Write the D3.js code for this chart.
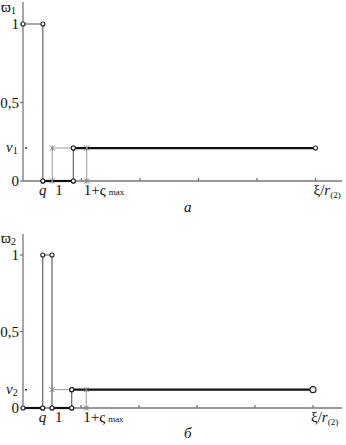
<!DOCTYPE html>
<meta charset="utf-8">
<style>
html, body { margin: 0; padding: 0; background: #fff; }
svg { display: block; }
text { font-family: "Liberation Serif", "Times New Roman", serif; font-size: 15px; fill: #111; }
.axis line, .axis path { stroke: #777; stroke-width: 1.3px; fill: none; }
.thin { stroke: #555; stroke-width: 1.1px; fill: none; }
.thick { stroke: #111; stroke-width: 2.2px; fill: none; }
.grey { stroke: #999; stroke-width: 1px; fill: none; }
.dot { fill: #fff; stroke: #222; stroke-width: 1.1px; }
.star { stroke: #888; stroke-width: 1px; }
</style>
<svg width="346" height="445"></svg>
<script src="https://d3js.org/d3.v7.min.js"></script>
<script>

// positions on the abscissa (axis ticks fall on the integers)
var xTicks = [1, 2, 3, 4, 5];
var qPos = 0.34, onePos = 0.5, cMaxPos = 1.09, endPos = 5;
var yTicks = [0, 0.5, 1];

// panel a
var v1 = 0.21;
var stepA = 0.86;
var greyA = [[0, 1], [qPos, 1], [qPos, 0]];
var thickA1 = [[qPos, 0], [stepA, 0]];
var riseA = [[stepA, 0], [stepA, v1]];
var thickA2 = [[stepA, v1], [endPos, v1]];
var starA = [[onePos, 0], [onePos, v1], [cMaxPos, v1], [cMaxPos, 0]];

// panel б
var v2 = 0.12;
var stepB = 0.84;
var thickB0 = [[0, 0], [qPos, 0]];
var greyB = [[qPos, 0], [qPos, 1], [onePos, 1], [onePos, 0]];
var thickB1 = [[onePos, 0], [stepB, 0]];
var riseB = [[stepB, 0], [stepB, v2]];
var thickB2 = [[stepB, v2], [endPos, v2]];
var starB = [[onePos, v2], [cMaxPos, v2], [cMaxPos, 0]];

var svg = d3.select('svg');

function panel(opt) {
  var x = d3.scaleLinear().domain([0, 5]).range([23, opt.xEnd]);
  var y = d3.scaleLinear().domain([0, 1]).range([opt.y0, opt.y1]);
  var g = svg.append('g');
  var line = d3.line().x(function (d) { return x(d[0]); }).y(function (d) { return y(d[1]); });

  // axes
  var ax = g.append('g').attr('class', 'axis');
  ax.append('line').attr('x1', x(0)).attr('x2', x(0)).attr('y1', opt.top).attr('y2', y(0));
  ax.append('line').attr('x1', x(0)).attr('x2', 342).attr('y1', y(0)).attr('y2', y(0));
  ax.selectAll('.xt').data(xTicks).enter().append('line')
    .attr('x1', x).attr('x2', x).attr('y1', y(0)).attr('y2', y(0) - 3);
  ax.selectAll('.yt').data(yTicks).enter().append('line')
    .attr('x1', x(0) - 3).attr('x2', x(0)).attr('y1', y).attr('y2', y);
  g.append('line').attr('x1', x(0) + 2).attr('x2', x(0) + 4)
    .attr('y1', y(opt.v)).attr('y2', y(opt.v)).attr('stroke', '#222').attr('stroke-width', 1.5);

  // y labels
  g.selectAll('.yl').data(yTicks).enter().append('text')
    .attr('x', 19).attr('y', function (d) { return y(d) + 5; })
    .attr('text-anchor', 'end')
    .text(function (d) { return d === 0.5 ? '0,5' : d; });
  var vl = g.append('text').attr('x', 6).attr('y', y(opt.v) + 4);
  vl.append('tspan').attr('font-style', 'italic').text('v');
  vl.append('tspan').attr('font-size', 10).attr('dy', 2).text(opt.idx);
  var wl = g.append('text').attr('x', 1).attr('y', opt.wy).attr('font-size', 14);
  wl.append('tspan').text('ϖ');
  wl.append('tspan').attr('font-size', 10).attr('dy', 2).text(opt.idx);

  // x labels
  var ly = y(0) + 14;
  g.append('text').attr('x', x(qPos) - 4).attr('y', ly).attr('font-style', 'italic').text('q');
  g.append('text').attr('x', x(onePos) + 3).attr('y', ly).text('1');
  var cl = g.append('text').attr('x', x(cMaxPos) - 3).attr('y', ly);
  cl.append('tspan').text('1+ς');
  cl.append('tspan').attr('font-size', 9).attr('dx', 3).text('max');
  var el = g.append('text').attr('x', x(endPos) - 2).attr('y', ly);
  el.append('tspan').text('ξ/');
  el.append('tspan').attr('font-style', 'italic').text('r');
  el.append('tspan').attr('font-size', 9).attr('dy', 3).text('(2)');
  g.append('text').attr('x', 184).attr('y', y(0) + opt.capDy)
    .attr('font-style', 'italic').attr('font-size', 16).text(opt.cap);

  // series
  opt.thin.forEach(function (s) { g.append('path').attr('class', 'thin').attr('d', line(s)); });
  g.append('path').attr('class', 'grey').attr('d', line(opt.star));
  opt.thick.forEach(function (s) { g.append('path').attr('class', 'thick').attr('d', line(s)); });

  opt.star.forEach(function (p) {
    var cx = x(p[0]), cy = y(p[1]), r = 2.5;
    g.append('path').attr('class', 'star')
      .attr('d', 'M' + (cx - r) + ',' + (cy - r) + 'L' + (cx + r) + ',' + (cy + r) +
        'M' + (cx - r) + ',' + (cy + r) + 'L' + (cx + r) + ',' + (cy - r) +
        'M' + cx + ',' + (cy - r) + 'L' + cx + ',' + (cy + r));
  });

  var dots = [];
  opt.thin.concat(opt.thick).forEach(function (s) { dots = dots.concat(s); });
  g.selectAll('circle').data(dots).enter().append('circle').attr('class', 'dot')
    .attr('cx', function (d) { return x(d[0]); })
    .attr('cy', function (d) { return y(d[1]); })
    .attr('r', function (d) { return d[0] === endPos ? opt.endR : 2; });
}

panel({ xEnd: 315.5, y0: 181, y1: 24, top: 2, wy: 12, v: v1, idx: '1', cap: 'a', capDy: 31,
  thin: [greyA, riseA], thick: [thickA1, thickA2], star: starA, endR: 2 });
panel({ xEnd: 313, y0: 408, y1: 255, top: 234, wy: 243, v: v2, idx: '2', cap: 'б', capDy: 30,
  thin: [greyB, riseB], thick: [thickB0, thickB1, thickB2], star: starB, endR: 3 });

</script>
